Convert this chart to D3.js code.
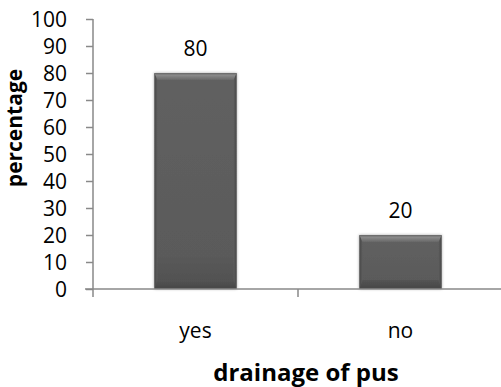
<!DOCTYPE html>
<html>
<head>
<meta charset="utf-8">
<script src="https://cdn.jsdelivr.net/npm/d3@7"></script>
<style>
  html, body { margin: 0; padding: 0; background: #fff; }
  svg { display: block; }
  text { font-family: "Open Sans", "DejaVu Sans", sans-serif; fill: #000; }
</style>
</head>
<body>
<svg id="chart" width="501" height="387"></svg>
<script>
// Drainage of pus, percentage of cases
const categories = ["yes", "no"];
const values = [80, 20];
const yTicks = [0, 10, 20, 30, 40, 50, 60, 70, 80, 90, 100];
const xTitle = "drainage of pus";
const yTitle = "percentage";

const svg = d3.select("#chart");
const plot = { left: 93, right: 503, top: 19, bottom: 289 };

const x = d3.scaleBand().domain(categories).range([plot.left, plot.right]);
const y = d3.scaleLinear().domain([0, 100]).range([plot.bottom, plot.top]);
const barW = x.bandwidth() * 0.4;

// Gradients for the bevelled bar faces
const defs = svg.append("defs");
function vGrad(id, stops) {
  const g = defs.append("linearGradient").attr("id", id)
    .attr("x1", 0).attr("y1", 0).attr("x2", 0).attr("y2", 1);
  stops.forEach(([o, c]) => g.append("stop").attr("offset", o).attr("stop-color", c));
}
function hGrad(id, stops) {
  const g = defs.append("linearGradient").attr("id", id)
    .attr("x1", 0).attr("y1", 0).attr("x2", 1).attr("y2", 0);
  stops.forEach(([o, c]) => g.append("stop").attr("offset", o).attr("stop-color", c));
}
vGrad("face", [[0, "#616161"], [0.85, "#5a5a5a"], [1, "#4e4e4e"]]);
vGrad("topBevel", [[0, "#9a9a9a"], [1, "#686868"]]);
vGrad("botBevel", [[0, "#545454"], [1, "#464646"]]);
hGrad("leftBevel", [[0, "#4a4a4a"], [1, "#5c5c5c"]]);
hGrad("rightBevel", [[0, "#5c5c5c"], [1, "#4a4a4a"]]);

const shadow = defs.append("filter").attr("id", "shadow")
  .attr("x", "-20%").attr("y", "-20%").attr("width", "140%").attr("height", "140%");
shadow.append("feGaussianBlur").attr("in", "SourceAlpha").attr("stdDeviation", 1.5).attr("result", "b");
shadow.append("feComponentTransfer").attr("in", "b").attr("result", "s")
  .append("feFuncA").attr("type", "linear").attr("slope", 0.35);
const merge = shadow.append("feMerge");
merge.append("feMergeNode").attr("in", "s");
merge.append("feMergeNode").attr("in", "SourceGraphic");

// Y axis
const yAxis = svg.append("g")
  .attr("transform", `translate(${plot.left},0)`)
  .call(d3.axisLeft(y).tickValues(yTicks).tickSize(7).tickPadding(19));
yAxis.select(".domain").attr("stroke", "#898989").attr("stroke-width", 1.5)
  .attr("d", `M0,${plot.top}V${plot.bottom}`);
yAxis.selectAll(".tick line").attr("stroke", "#898989").attr("stroke-width", 1.5);
yAxis.selectAll(".tick text")
  .style("font-family", '"Open Sans", sans-serif')
  .style("font-size", "21px").attr("fill", "#000").attr("dy", "0.36em");

// Bars
const bars = svg.append("g").selectAll("g.bar")
  .data(categories.map((c, i) => ({ c, v: values[i] })))
  .join("g").attr("class", "bar").attr("filter", "url(#shadow)");

bars.each(function (d) {
  const g = d3.select(this);
  const x0 = x(d.c) + (x.bandwidth() - barW) / 2;
  const x1 = x0 + barW;
  const y0 = y(d.v);
  const y1 = y(0);
  const bt = 7, bb = 9, bs = 3;
  g.append("rect").attr("x", x0).attr("y", y0).attr("width", barW).attr("height", y1 - y0)
    .attr("fill", "url(#face)");
  g.append("polygon").attr("fill", "url(#leftBevel)")
    .attr("points", [[x0, y0], [x0 + bs, y0 + bt], [x0 + bs, y1 - bb], [x0, y1]].join(" "));
  g.append("polygon").attr("fill", "url(#rightBevel)")
    .attr("points", [[x1, y0], [x1 - bs, y0 + bt], [x1 - bs, y1 - bb], [x1, y1]].join(" "));
  g.append("polygon").attr("fill", "url(#botBevel)")
    .attr("points", [[x0, y1], [x0 + bs, y1 - bb], [x1 - bs, y1 - bb], [x1, y1]].join(" "));
  g.append("polygon").attr("fill", "url(#topBevel)")
    .attr("points", [[x0, y0], [x1, y0], [x1 - bs, y0 + bt], [x0 + bs, y0 + bt]].join(" "));
  g.append("rect").attr("x", x0).attr("y", y0).attr("width", barW).attr("height", 1.5)
    .attr("fill", "#6e6e6e");
});

// X axis
const xAxis = svg.append("g")
  .attr("transform", `translate(0,${plot.bottom})`);
xAxis.append("line").attr("x1", plot.left - 8).attr("x2", 501)
  .attr("stroke", "#898989").attr("stroke-width", 1.5);
xAxis.selectAll("line.cat")
  .data([plot.left, ...categories.map(c => x(c) + x.bandwidth())])
  .join("line").attr("class", "cat")
  .attr("x1", d => d).attr("x2", d => d).attr("y1", 0).attr("y2", 8)
  .attr("stroke", "#898989").attr("stroke-width", 1.5);
xAxis.selectAll("text.cat")
  .data(categories)
  .join("text").attr("class", "cat")
  .attr("x", d => x(d) + x.bandwidth() / 2).attr("y", 49)
  .attr("text-anchor", "middle").style("font-size", "21px")
  .text(d => d);

// Value labels
svg.append("g").selectAll("text")
  .data(categories.map((c, i) => ({ c, v: values[i] })))
  .join("text")
  .attr("x", d => x(d.c) + x.bandwidth() / 2)
  .attr("y", d => y(d.v) - 17)
  .attr("text-anchor", "middle").style("font-size", "21px")
  .text(d => d.v);

// Axis titles
svg.append("text")
  .attr("x", 306).attr("y", 381)
  .attr("text-anchor", "middle")
  .style("font-size", "24px").style("font-weight", "bold")
  .text(xTitle);

svg.append("text")
  .attr("transform", "translate(22,128) rotate(-90)")
  .attr("text-anchor", "middle")
  .style("font-size", "21px").style("font-weight", "bold")
  .text(yTitle);
</script>
</body>
</html>
